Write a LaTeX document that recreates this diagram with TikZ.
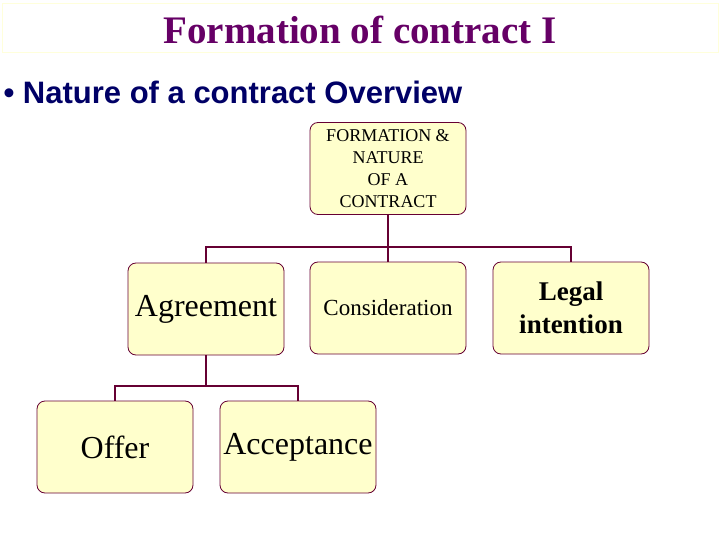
\documentclass[tikz,border=0pt]{standalone}
\usepackage{fontspec}
\setmainfont{Liberation Serif}
\newfontfamily\arialf{Liberation Sans}
\definecolor{boxfill}{HTML}{FFFFCC}
\definecolor{boxline}{HTML}{660033}
\definecolor{titlec}{HTML}{660066}
\definecolor{navy}{HTML}{000066}
\begin{document}
\begin{tikzpicture}[x=1pt,y=-1pt,
  box/.style={draw=boxline,fill=boxfill,rounded corners=8pt,minimum width=156pt,minimum height=92pt,align=center,inner sep=1pt,line width=0.8pt},
  conn/.style={draw=boxline,line width=1.6pt}]
\useasboundingbox (0,0) rectangle (720,540);
\draw[draw=boxfill!70!white] (2,3) rectangle (718,52);
\node[text=titlec,font=\bfseries\fontsize{39}{42}\selectfont] (title) at (360,30) {Formation of contract I};
\node[anchor=west,text=navy,font=\arialf\bfseries\fontsize{31}{34}\selectfont] (bul) at (0,92) {\textbullet\ Nature of a contract Overview};
\node[box,font=\fontsize{18}{22}\selectfont] (top) at (388,168.5) {FORMATION \&\\NATURE\\OF A\\CONTRACT};
\node[box,font=\fontsize{32}{36}\selectfont] (agr) at (206,309) {Agreement};
\node[box,font=\fontsize{23}{27}\selectfont] (con) at (388,308) {Consideration};
\node[box,font=\bfseries\fontsize{27}{33}\selectfont] (leg) at (571,308) {Legal\\intention};
\node[box,font=\fontsize{32}{36}\selectfont] (off) at (115,447) {Offer};
\node[box,font=\fontsize{32}{36}\selectfont] (acc) at (298,447) {Acceptance};
\coordinate (j1) at (388,247);
\coordinate (j2) at (206,386);
\draw[conn] (top.south) -- (j1);
\draw[conn] (agr.north) |- (j1) -| (leg.north);
\draw[conn] (con.north) -- (j1);
\draw[conn] (agr.south) -- (j2);
\draw[conn] (off.north) |- (j2) -| (acc.north);
\end{tikzpicture}
\end{document}
